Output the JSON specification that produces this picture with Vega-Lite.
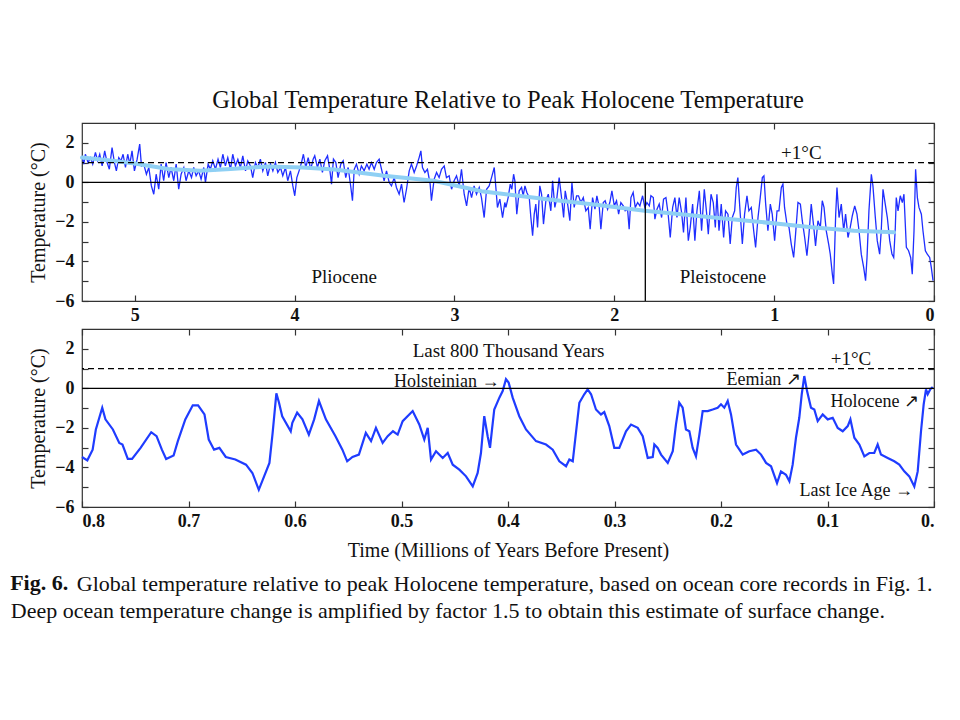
{
  "$schema": "https://vega.github.io/schema/vega-lite/v6.json",
  "padding": {"left": 10, "top": 87, "right": 5, "bottom": 5},
  "config": {
    "font": "Liberation Serif",
    "view": {"stroke": "#333", "strokeWidth": 1.2},
    "axis": {"domain": false, "grid": false, "tickColor": "#333", "tickSize": -6, "tickWidth": 1.2, "labelFont": "Liberation Serif", "labelFontSize": 18, "labelFontWeight": "bold", "labelColor": "#111", "titleFont": "Liberation Serif", "titleFontSize": 20, "titleFontWeight": "normal", "titleColor": "#111"},
    "title": {"font": "Liberation Serif", "color": "#111"},
    "text": {"font": "Liberation Serif", "color": "#111"}
  },
  "spacing": 2,
  "title": {"text": "Fig. 6.", "orient": "bottom", "anchor": "start", "frame": "bounds", "fontSize": 22, "fontWeight": "bold", "offset": 0, "dy": -50},
  "datasets": {
    "top": [
      {"t":5.33,"v":1.34},{"t":5.319,"v":0.92},{"t":5.309,"v":1.42},{"t":5.292,"v":1.0},{"t":5.277,"v":1.25},{"t":5.263,"v":0.92},{"t":5.246,"v":1.51},{"t":5.232,"v":1.09},{"t":5.219,"v":1.42},{"t":5.204,"v":0.83},{"t":5.188,"v":1.59},{"t":5.173,"v":1.0},{"t":5.159,"v":0.66},{"t":5.142,"v":1.76},{"t":5.127,"v":1.0},{"t":5.115,"v":0.58},{"t":5.1,"v":1.25},{"t":5.086,"v":1.09},{"t":5.073,"v":1.42},{"t":5.058,"v":0.75},{"t":5.044,"v":1.42},{"t":5.031,"v":0.92},{"t":5.017,"v":1.59},{"t":5.002,"v":0.58},{"t":4.985,"v":1.17},{"t":4.969,"v":1.93},{"t":4.958,"v":0.83},{"t":4.944,"v":0.92},{"t":4.927,"v":0.41},{"t":4.912,"v":0.75},{"t":4.896,"v":-0.18},{"t":4.881,"v":-0.6},{"t":4.866,"v":0.41},{"t":4.85,"v":-0.35},{"t":4.835,"v":0.92},{"t":4.819,"v":0.08},{"t":4.804,"v":1.0},{"t":4.787,"v":0.24},{"t":4.773,"v":0.75},{"t":4.756,"v":0.08},{"t":4.741,"v":0.92},{"t":4.725,"v":-0.35},{"t":4.71,"v":0.41},{"t":4.693,"v":0.75},{"t":4.679,"v":0.08},{"t":4.662,"v":0.58},{"t":4.645,"v":0.24},{"t":4.631,"v":0.75},{"t":4.616,"v":0.33},{"t":4.6,"v":0.58},{"t":4.585,"v":0.16},{"t":4.568,"v":0.75},{"t":4.558,"v":-0.01},{"t":4.541,"v":0.92},{"t":4.527,"v":0.66},{"t":4.512,"v":1.09},{"t":4.495,"v":0.66},{"t":4.479,"v":1.17},{"t":4.464,"v":0.75},{"t":4.449,"v":1.42},{"t":4.433,"v":0.83},{"t":4.418,"v":1.25},{"t":4.401,"v":0.66},{"t":4.387,"v":1.42},{"t":4.37,"v":0.83},{"t":4.355,"v":1.17},{"t":4.339,"v":0.75},{"t":4.324,"v":1.34},{"t":4.307,"v":0.58},{"t":4.293,"v":1.09},{"t":4.276,"v":0.83},{"t":4.262,"v":0.24},{"t":4.245,"v":1.0},{"t":4.23,"v":0.75},{"t":4.214,"v":1.17},{"t":4.199,"v":0.58},{"t":4.182,"v":1.0},{"t":4.168,"v":0.33},{"t":4.151,"v":0.92},{"t":4.136,"v":0.58},{"t":4.12,"v":1.0},{"t":4.105,"v":0.5},{"t":4.088,"v":0.75},{"t":4.074,"v":0.33},{"t":4.057,"v":0.75},{"t":4.043,"v":0.08},{"t":4.026,"v":0.58},{"t":4.011,"v":-0.18},{"t":3.999,"v":-0.68},{"t":3.986,"v":0.24},{"t":3.972,"v":0.58},{"t":3.957,"v":1.0},{"t":3.945,"v":1.42},{"t":3.93,"v":0.75},{"t":3.915,"v":1.25},{"t":3.899,"v":0.66},{"t":3.884,"v":1.17},{"t":3.874,"v":1.34},{"t":3.857,"v":0.75},{"t":3.842,"v":1.17},{"t":3.826,"v":0.5},{"t":3.811,"v":1.09},{"t":3.794,"v":1.34},{"t":3.78,"v":0.66},{"t":3.769,"v":-0.09},{"t":3.757,"v":1.17},{"t":3.742,"v":1.0},{"t":3.728,"v":0.24},{"t":3.711,"v":0.92},{"t":3.696,"v":1.09},{"t":3.68,"v":0.24},{"t":3.665,"v":0.75},{"t":3.648,"v":-0.26},{"t":3.638,"v":-0.93},{"t":3.627,"v":0.66},{"t":3.613,"v":0.92},{"t":3.596,"v":0.41},{"t":3.582,"v":0.83},{"t":3.565,"v":0.58},{"t":3.548,"v":0.92},{"t":3.534,"v":0.66},{"t":3.519,"v":1.0},{"t":3.502,"v":0.66},{"t":3.488,"v":1.0},{"t":3.471,"v":1.17},{"t":3.456,"v":0.66},{"t":3.44,"v":0.08},{"t":3.425,"v":0.58},{"t":3.408,"v":-0.01},{"t":3.394,"v":-0.18},{"t":3.377,"v":0.24},{"t":3.363,"v":-0.26},{"t":3.346,"v":-0.6},{"t":3.331,"v":-0.09},{"t":3.315,"v":-1.02},{"t":3.3,"v":-0.35},{"t":3.283,"v":0.58},{"t":3.269,"v":0.92},{"t":3.252,"v":0.5},{"t":3.237,"v":0.83},{"t":3.221,"v":1.25},{"t":3.21,"v":1.59},{"t":3.2,"v":0.75},{"t":3.185,"v":0.5},{"t":3.169,"v":0.66},{"t":3.152,"v":-0.09},{"t":3.144,"v":-0.93},{"t":3.127,"v":0.16},{"t":3.112,"v":0.5},{"t":3.096,"v":0.24},{"t":3.081,"v":0.66},{"t":3.064,"v":0.83},{"t":3.05,"v":0.24},{"t":3.033,"v":0.33},{"t":3.018,"v":-0.35},{"t":3.002,"v":0.08},{"t":2.987,"v":0.33},{"t":2.97,"v":-0.18},{"t":2.956,"v":0.66},{"t":2.939,"v":-0.6},{"t":2.924,"v":-1.19},{"t":2.908,"v":-0.26},{"t":2.893,"v":-0.77},{"t":2.877,"v":-0.18},{"t":2.862,"v":-0.6},{"t":2.845,"v":-0.26},{"t":2.831,"v":-0.77},{"t":2.814,"v":-1.78},{"t":2.799,"v":-0.35},{"t":2.783,"v":-0.18},{"t":2.768,"v":0.24},{"t":2.751,"v":0.75},{"t":2.741,"v":-0.26},{"t":2.731,"v":-1.27},{"t":2.716,"v":-0.85},{"t":2.699,"v":-1.78},{"t":2.685,"v":-1.02},
      {"t":2.678,"v":-1.27},{"t":2.664,"v":-0.77},{"t":2.651,"v":-0.09},{"t":2.641,"v":-0.35},{"t":2.63,"v":0.41},{"t":2.622,"v":0.08},{"t":2.61,"v":-1.61},{"t":2.595,"v":-0.43},{"t":2.58,"v":-0.26},{"t":2.57,"v":-0.68},{"t":2.559,"v":-0.18},{"t":2.547,"v":-0.51},{"t":2.532,"v":-0.77},{"t":2.522,"v":-1.78},{"t":2.511,"v":-2.7},{"t":2.501,"v":-1.61},{"t":2.491,"v":-1.1},{"t":2.48,"v":-2.28},{"t":2.466,"v":-0.18},{"t":2.455,"v":-0.6},{"t":2.443,"v":-2.11},{"t":2.428,"v":-0.93},{"t":2.413,"v":-0.6},{"t":2.397,"v":-1.44},{"t":2.386,"v":0.08},{"t":2.372,"v":-1.27},{"t":2.359,"v":-0.77},{"t":2.345,"v":0.24},{"t":2.33,"v":-0.77},{"t":2.317,"v":-1.78},{"t":2.307,"v":-0.43},{"t":2.292,"v":-1.1},{"t":2.278,"v":-1.94},{"t":2.265,"v":-0.01},{"t":2.251,"v":-1.27},{"t":2.236,"v":-0.68},{"t":2.224,"v":-0.68},{"t":2.209,"v":-1.02},{"t":2.194,"v":-0.77},{"t":2.178,"v":-1.44},{"t":2.163,"v":-1.27},{"t":2.151,"v":-2.37},{"t":2.136,"v":-0.77},{"t":2.121,"v":-1.36},{"t":2.109,"v":-0.68},{"t":2.094,"v":-1.27},{"t":2.084,"v":-2.37},{"t":2.069,"v":-1.02},{"t":2.057,"v":-0.93},{"t":2.042,"v":-1.36},{"t":2.028,"v":-1.02},{"t":2.015,"v":-0.43},{"t":2.0,"v":-1.19},{"t":1.986,"v":-0.93},{"t":1.973,"v":-1.61},{"t":1.959,"v":-1.02},{"t":1.944,"v":-1.19},{"t":1.932,"v":-1.44},{"t":1.917,"v":-1.36},{"t":1.907,"v":-2.37},{"t":1.896,"v":-0.77},{"t":1.882,"v":-0.51},{"t":1.869,"v":-1.27},{"t":1.854,"v":-1.02},{"t":1.84,"v":-1.19},{"t":1.823,"v":-0.68},{"t":1.809,"v":-1.27},{"t":1.796,"v":-1.02},{"t":1.781,"v":-1.19},{"t":1.771,"v":-0.68},{"t":1.756,"v":-0.77},{"t":1.746,"v":-1.86},{"t":1.733,"v":-1.36},{"t":1.719,"v":-1.1},{"t":1.704,"v":-1.78},{"t":1.692,"v":-0.85},{"t":1.677,"v":-0.77},{"t":1.663,"v":-1.61},{"t":1.65,"v":-2.79},{"t":1.635,"v":-1.27},{"t":1.621,"v":-0.77},{"t":1.608,"v":-1.78},{"t":1.594,"v":-0.77},{"t":1.579,"v":-1.52},{"t":1.567,"v":-2.53},{"t":1.552,"v":-0.77},{"t":1.537,"v":-2.95},{"t":1.525,"v":-2.28},{"t":1.51,"v":-1.1},{"t":1.496,"v":-2.95},{"t":1.483,"v":-1.44},{"t":1.468,"v":-0.43},{"t":1.454,"v":-2.45},{"t":1.437,"v":-0.35},{"t":1.423,"v":-1.52},{"t":1.412,"v":-2.62},{"t":1.395,"v":-0.6},{"t":1.381,"v":-1.02},{"t":1.368,"v":-2.28},
      {"t":1.358,"v":-0.6},{"t":1.345,"v":-2.45},{"t":1.331,"v":-1.1},{"t":1.316,"v":-2.79},{"t":1.304,"v":-1.44},{"t":1.289,"v":-1.61},{"t":1.275,"v":-3.12},{"t":1.262,"v":-1.78},{"t":1.247,"v":-1.44},{"t":1.237,"v":-0.26},{"t":1.227,"v":0.24},{"t":1.212,"v":-1.61},{"t":1.199,"v":-3.12},{"t":1.185,"v":-1.61},{"t":1.17,"v":-0.68},{"t":1.158,"v":-1.44},{"t":1.143,"v":-1.27},{"t":1.128,"v":-2.45},{"t":1.116,"v":-3.29},{"t":1.101,"v":-1.78},{"t":1.087,"v":-0.77},{"t":1.074,"v":0.24},{"t":1.064,"v":0.33},{"t":1.053,"v":-1.1},{"t":1.039,"v":-2.45},{"t":1.024,"v":-1.1},{"t":1.012,"v":-1.61},{"t":0.997,"v":-2.95},{"t":0.982,"v":-1.44},{"t":0.97,"v":-1.44},{"t":0.955,"v":-0.26},{"t":0.945,"v":-0.09},{"t":0.935,"v":-1.27},{"t":0.92,"v":-2.11},{"t":0.907,"v":-2.28},{"t":0.893,"v":-3.12},{"t":0.878,"v":-3.8},{"t":0.866,"v":-2.62},{"t":0.851,"v":-1.02},{"t":0.836,"v":-1.1},{"t":0.824,"v":-1.94},{"t":0.809,"v":-2.79},{"t":0.795,"v":-3.71},{"t":0.782,"v":-2.62},{"t":0.768,"v":-1.1},{"t":0.753,"v":-2.2},{"t":0.741,"v":-3.21},{"t":0.726,"v":-1.94},{"t":0.711,"v":-2.28},{"t":0.699,"v":-0.93},{"t":0.688,"v":-1.27},{"t":0.674,"v":-2.45},{"t":0.659,"v":-3.12},{"t":0.649,"v":-3.63},{"t":0.636,"v":-4.64},{"t":0.628,"v":-5.14},{"t":0.615,"v":-1.61},{"t":0.607,"v":-0.26},{"t":0.594,"v":-1.78},{"t":0.58,"v":-1.1},{"t":0.565,"v":-2.45},{"t":0.553,"v":-1.61},{"t":0.538,"v":-2.79},{"t":0.524,"v":-2.28},{"t":0.511,"v":-1.69},{"t":0.496,"v":-1.19},{"t":0.482,"v":-1.61},{"t":0.469,"v":-2.45},{"t":0.455,"v":-3.63},{"t":0.44,"v":-4.3},{"t":0.428,"v":-4.97},{"t":0.419,"v":-3.8},{"t":0.407,"v":-1.44},{"t":0.392,"v":0.41},{"t":0.382,"v":-0.18},{"t":0.367,"v":-1.78},{"t":0.355,"v":-2.95},{"t":0.34,"v":-3.63},{"t":0.33,"v":-2.45},{"t":0.319,"v":-0.35},{"t":0.305,"v":-1.1},{"t":0.292,"v":-1.78},{"t":0.277,"v":-2.95},{"t":0.263,"v":-3.63},{"t":0.252,"v":-3.8},{"t":0.242,"v":-2.28},{"t":0.236,"v":-0.77},{"t":0.225,"v":-1.44},{"t":0.211,"v":-0.68},{"t":0.198,"v":-1.02},{"t":0.188,"v":-0.6},{"t":0.173,"v":-3.29},{"t":0.159,"v":-3.46},{"t":0.146,"v":-3.8},{"t":0.136,"v":-4.64},{"t":0.125,"v":-2.45},{"t":0.115,"v":0.66},{"t":0.104,"v":-0.77},{"t":0.094,"v":-1.27},{"t":0.079,"v":-1.61},{"t":0.069,"v":-2.45},{"t":0.054,"v":-3.46},{"t":0.042,"v":-3.63},{"t":0.027,"v":-3.8},{"t":0.017,"v":-4.3},{"t":0.006,"v":-4.97}
    ],
    "trend": [
      {"t":5.33,"v":1.25},{"t":5.15,"v":1.1},{"t":5.0,"v":0.95},{"t":4.79,"v":0.67},{"t":4.59,"v":0.58},{"t":4.4,"v":0.68},{"t":4.17,"v":0.8},{"t":3.95,"v":0.75},{"t":3.75,"v":0.65},{"t":3.44,"v":0.33},{"t":3.13,"v":0.08},{"t":2.83,"v":-0.45},{"t":2.6,"v":-0.68},{"t":2.42,"v":-0.85},{"t":2.1,"v":-1.15},{"t":1.81,"v":-1.44},{"t":1.6,"v":-1.6},{"t":1.38,"v":-1.78},{"t":1.15,"v":-1.95},{"t":0.96,"v":-2.11},{"t":0.75,"v":-2.28},{"t":0.5,"v":-2.45},{"t":0.25,"v":-2.53}
    ],
    "bottom": [
      {"t":0.8,"v":-3.47},{"t":0.795,"v":-3.64},{"t":0.79,"v":-3.1},{"t":0.787,"v":-2.08},{"t":0.781,"v":-0.98},{"t":0.778,"v":-1.57},{"t":0.771,"v":-2.08},{"t":0.765,"v":-2.76},{"t":0.762,"v":-2.84},{"t":0.757,"v":-3.57},{"t":0.753,"v":-3.57},{"t":0.745,"v":-3.01},{"t":0.735,"v":-2.22},{"t":0.73,"v":-2.42},{"t":0.725,"v":-3.1},{"t":0.721,"v":-3.57},{"t":0.714,"v":-3.4},{"t":0.71,"v":-2.67},{"t":0.703,"v":-1.57},{"t":0.696,"v":-0.86},{"t":0.691,"v":-0.86},{"t":0.685,"v":-1.32},{"t":0.681,"v":-2.59},{"t":0.676,"v":-3.1},{"t":0.671,"v":-3.01},{"t":0.665,"v":-3.47},{"t":0.656,"v":-3.6},{"t":0.646,"v":-3.86},{"t":0.64,"v":-4.28},{"t":0.634,"v":-5.13},{"t":0.629,"v":-4.45},{"t":0.624,"v":-3.77},{"t":0.621,"v":-2.25},{"t":0.6175,"v":-0.25},{"t":0.615,"v":-0.73},{"t":0.612,"v":-1.41},{"t":0.604,"v":-2.17},{"t":0.6025,"v":-1.74},{"t":0.598,"v":-1.23},{"t":0.593,"v":-1.57},{"t":0.587,"v":-2.34},{"t":0.582,"v":-1.57},{"t":0.5775,"v":-0.64},{"t":0.571,"v":-1.57},{"t":0.562,"v":-2.42},{"t":0.5555,"v":-3.1},{"t":0.551,"v":-3.69},{"t":0.546,"v":-3.47},{"t":0.54,"v":-3.35},{"t":0.5335,"v":-2.25},{"t":0.5286,"v":-2.67},{"t":0.524,"v":-2.0},{"t":0.5177,"v":-2.76},{"t":0.513,"v":-2.42},{"t":0.508,"v":-2.17},{"t":0.5036,"v":-2.34},{"t":0.4989,"v":-1.66},{"t":0.4895,"v":-1.15},{"t":0.4833,"v":-1.83},{"t":0.4786,"v":-2.59},{"t":0.4754,"v":-2.0},{"t":0.4723,"v":-3.6},{"t":0.4676,"v":-3.18},{"t":0.4613,"v":-3.52},{"t":0.4566,"v":-3.27},{"t":0.4519,"v":-3.86},{"t":0.4457,"v":-4.11},{"t":0.4394,"v":-4.45},{"t":0.4331,"v":-4.96},{"t":0.4285,"v":-4.28},{"t":0.4254,"v":-3.27},{"t":0.4223,"v":-1.41},{"t":0.4191,"v":-2.42},{"t":0.4169,"v":-3.01},{"t":0.415,"v":-2.08},{"t":0.4129,"v":-1.07},{"t":0.4081,"v":-0.47},{"t":0.405,"v":-0.14},{"t":0.4019,"v":0.46},{"t":0.3994,"v":0.29},{"t":0.3956,"v":-0.47},{"t":0.3894,"v":-1.41},{"t":0.3831,"v":-2.08},{"t":0.3737,"v":-2.67},{"t":0.3643,"v":-2.84},{"t":0.358,"v":-3.1},{"t":0.3518,"v":-3.69},{"t":0.3455,"v":-3.94},{"t":0.3424,"v":-3.6},{"t":0.3392,"v":-3.69},{"t":0.3362,"v":-2.25},{"t":0.333,"v":-0.73},{"t":0.3284,"v":-0.3},{"t":0.3252,"v":-0.05},{"t":0.322,"v":-0.3},{"t":0.3174,"v":-1.07},{"t":0.3127,"v":-1.32},{"t":0.3096,"v":-1.2},{"t":0.3049,"v":-1.91},{"t":0.3002,"v":-3.01},{"t":0.2955,"v":-3.01},{"t":0.2892,"v":-2.17},{"t":0.2845,"v":-1.83},{"t":0.2782,"v":-2.0},{"t":0.2735,"v":-2.42},{"t":0.2688,"v":-3.52},{"t":0.2641,"v":-3.47},{"t":0.2626,"v":-2.84},{"t":0.2595,"v":-3.01},{"t":0.2563,"v":-3.35},{"t":0.25,"v":-3.77},{"t":0.2453,"v":-3.18},{"t":0.2423,"v":-1.83},{"t":0.2392,"v":-0.73},{"t":0.236,"v":-0.98},{"t":0.2329,"v":-2.08},{"t":0.2297,"v":-2.17},{"t":0.2266,"v":-3.01},{"t":0.2235,"v":-3.44},{"t":0.2203,"v":-2.34},{"t":0.2172,"v":-1.15},{"t":0.2125,"v":-1.15},{"t":0.2078,"v":-1.07},{"t":0.2031,"v":-0.98},{"t":0.2,"v":-0.81},{"t":0.1969,"v":-0.98},{"t":0.1937,"v":-0.64},{"t":0.1906,"v":-1.32},{"t":0.1859,"v":-2.84},{"t":0.1796,"v":-3.35},{"t":0.1734,"v":-3.18},{"t":0.1671,"v":-3.1},{"t":0.1624,"v":-3.35},{"t":0.1577,"v":-3.77},{"t":0.153,"v":-3.94},{"t":0.1474,"v":-4.79},{"t":0.1437,"v":-4.2},{"t":0.139,"v":-4.37},{"t":0.1358,"v":-4.7},{"t":0.1327,"v":-3.86},{"t":0.1296,"v":-2.5},{"t":0.1265,"v":-1.49},{"t":0.1242,"v":-0.3},{"t":0.1218,"v":0.62},{"t":0.1192,"v":-0.14},{"t":0.1155,"v":-0.98},{"t":0.1124,"v":-1.07},{"t":0.1092,"v":-1.66},{"t":0.1045,"v":-1.32},{"t":0.0998,"v":-1.57},{"t":0.0951,"v":-1.49},{"t":0.0904,"v":-2.0},{"t":0.0857,"v":-2.17},{"t":0.081,"v":-1.91},{"t":0.0785,"v":-1.57},{"t":0.0748,"v":-2.5},{"t":0.0701,"v":-2.84},{"t":0.0654,"v":-3.44},{"t":0.0607,"v":-3.27},{"t":0.0561,"v":-3.27},{"t":0.0529,"v":-2.84},{"t":0.0498,"v":-3.35},{"t":0.0435,"v":-3.52},{"t":0.0373,"v":-3.69},{"t":0.0326,"v":-3.86},{"t":0.0279,"v":-4.2},{"t":0.0232,"v":-4.45},{"t":0.0185,"v":-4.96},{"t":0.0153,"v":-4.2},{"t":0.0122,"v":-2.17},{"t":0.0097,"v":-0.81},{"t":0.0075,"v":-0.05},{"t":0.0059,"v":-0.3},{"t":0.0035,"v":-0.05},{"t":0.0012,"v":0.07}
    ],
    "refs": [{"v":0,"kind":"zero"},{"v":1,"kind":"plus1"}],
    "boundary": [{"t":1.806,"v0":0,"v1":-6}],
    "topLabels": [{"t":3.69,"v":-4.8,"label":"Pliocene"},{"t":1.32,"v":-4.8,"label":"Pleistocene"},{"t":0.83,"v":1.5,"label":"+1°C"}],
    "bottomCenter": [{"t":0.3995,"v":1.88,"label":"Last 800 Thousand Years"},{"t":0.078,"v":1.47,"label":"+1°C"}],
    "bottomRight": [{"t":0.408,"v":0.32,"label":"Holsteinian →"},{"t":0.125,"v":0.41,"label":"Eemian ↗"},{"t":0.014,"v":-0.7,"label":"Holocene ↗"},{"t":0.0197,"v":-5.2,"label":"Last Ice Age →"}]
  },
  "vconcat": [
    {
      "width": 852,
      "height": 178,
      "title": {"text": "Global Temperature Relative to Peak Holocene Temperature", "fontSize": 24.5, "fontWeight": "normal", "offset": 9, "anchor": "middle"},
      "layer": [
        {
          "data": {"name": "top"},
          "mark": {"type": "line", "color": "#1f2eff", "strokeWidth": 1.3},
          "encoding": {
            "x": {"field": "t", "type": "quantitative", "scale": {"domain": [0, 5.33], "reverse": true, "nice": false, "zero": false}, "axis": {"orient": "bottom", "values": [0, 1, 2, 3, 4, 5], "format": "d", "title": null, "labelPadding": 11}},
            "y": {"field": "v", "type": "quantitative", "scale": {"domain": [-6, 3], "nice": false}, "axis": {"orient": "left", "values": [-6, -5, -4, -3, -2, -1, 0, 1, 2], "labelExpr": "datum.value % 2 == 0 ? datum.label : ''", "title": "Temperature (°C)", "labelPadding": 14, "titlePadding": 6}}
          }
        },
        {
          "data": {"name": "trend"},
          "mark": {"type": "line", "color": "#8fd0f4", "strokeWidth": 4, "strokeCap": "round"},
          "encoding": {
            "x": {"field": "t", "type": "quantitative", "axis": null},
            "y": {"field": "v", "type": "quantitative", "axis": null}
          }
        },
        {
          "data": {"name": "refs"},
          "transform": [{"filter": "datum.kind == 'zero'"}],
          "mark": {"type": "rule", "color": "#000", "strokeWidth": 1.3},
          "encoding": {"y": {"field": "v", "type": "quantitative", "axis": null}}
        },
        {
          "data": {"name": "refs"},
          "transform": [{"filter": "datum.kind == 'plus1'"}],
          "mark": {"type": "rule", "color": "#000", "strokeWidth": 1.2, "strokeDash": [6, 4]},
          "encoding": {"y": {"field": "v", "type": "quantitative", "axis": null}}
        },
        {
          "data": {"name": "boundary"},
          "mark": {"type": "rule", "color": "#000", "strokeWidth": 1.3},
          "encoding": {
            "x": {"field": "t", "type": "quantitative", "axis": null},
            "y": {"field": "v0", "type": "quantitative", "axis": null},
            "y2": {"field": "v1"}
          }
        },
        {
          "data": {"name": "topLabels"},
          "mark": {"type": "text", "fontSize": 19, "align": "center", "baseline": "middle"},
          "encoding": {
            "x": {"field": "t", "type": "quantitative", "axis": {"orient": "top", "values": [0, 1, 2, 3, 4, 5], "labels": false, "title": null}},
            "y": {"field": "v", "type": "quantitative", "axis": {"orient": "right", "values": [-6, -5, -4, -3, -2, -1, 0, 1, 2], "labels": false, "title": null}},
            "text": {"field": "label"}
          }
        }
      ],
      "resolve": {"axis": {"x": "independent", "y": "independent"}}
    },
    {
      "width": 852,
      "height": 178,
      "title": {"text": ["\u200b\u00a0\u00a0\u00a0\u00a0\u00a0\u00a0\u00a0\u00a0\u00a0\u00a0\u00a0\u00a0Global temperature relative to peak Holocene temperature, based on ocean core records in Fig. 1.", "Deep ocean temperature change is amplified by factor 1.5 to obtain this estimate of surface change."], "orient": "bottom", "anchor": "start", "frame": "bounds", "fontSize": 22, "fontWeight": "normal", "lineHeight": 27, "offset": 14, "dx": -18},
      "layer": [
        {
          "data": {"name": "bottom"},
          "mark": {"type": "line", "color": "#1f3cff", "strokeWidth": 2.2},
          "encoding": {
            "x": {"field": "t", "type": "quantitative", "scale": {"domain": [0, 0.8], "reverse": true, "nice": false, "zero": false}, "axis": {"orient": "bottom", "values": [0, 0.1, 0.2, 0.3, 0.4, 0.5, 0.6, 0.7, 0.8], "labelExpr": "datum.value == 0 ? '0.' : format(datum.value, '.1f')", "title": "Time (Millions of Years Before Present)", "labelPadding": 11, "titlePadding": 10}},
            "y": {"field": "v", "type": "quantitative", "scale": {"domain": [-6, 3], "nice": false}, "axis": {"orient": "left", "values": [-6, -5, -4, -3, -2, -1, 0, 1, 2], "labelExpr": "datum.value % 2 == 0 ? datum.label : ''", "title": "Temperature (°C)", "labelPadding": 14, "titlePadding": 6}}
          }
        },
        {
          "data": {"name": "refs"},
          "transform": [{"filter": "datum.kind == 'zero'"}],
          "mark": {"type": "rule", "color": "#000", "strokeWidth": 1.3},
          "encoding": {"y": {"field": "v", "type": "quantitative", "axis": null}}
        },
        {
          "data": {"name": "refs"},
          "transform": [{"filter": "datum.kind == 'plus1'"}],
          "mark": {"type": "rule", "color": "#000", "strokeWidth": 1.2, "strokeDash": [6, 4]},
          "encoding": {"y": {"field": "v", "type": "quantitative", "axis": null}}
        },
        {
          "data": {"name": "bottomCenter"},
          "mark": {"type": "text", "fontSize": 19, "align": "center", "baseline": "middle"},
          "encoding": {
            "x": {"field": "t", "type": "quantitative", "axis": {"orient": "top", "values": [0, 0.1, 0.2, 0.3, 0.4, 0.5, 0.6, 0.7, 0.8], "labels": false, "title": null}},
            "y": {"field": "v", "type": "quantitative", "axis": {"orient": "right", "values": [-6, -5, -4, -3, -2, -1, 0, 1, 2], "labels": false, "title": null}},
            "text": {"field": "label"}
          }
        },
        {
          "data": {"name": "bottomRight"},
          "mark": {"type": "text", "fontSize": 18, "align": "right", "baseline": "middle"},
          "encoding": {
            "x": {"field": "t", "type": "quantitative", "axis": null},
            "y": {"field": "v", "type": "quantitative", "axis": null},
            "text": {"field": "label"}
          }
        }
      ],
      "resolve": {"axis": {"x": "independent", "y": "independent"}}
    }
  ]
}
